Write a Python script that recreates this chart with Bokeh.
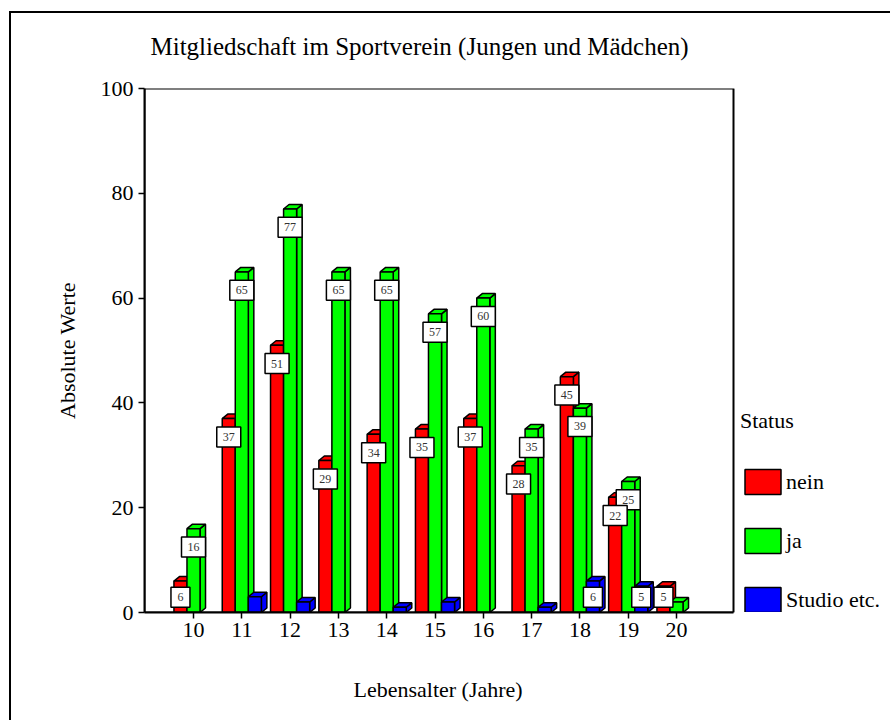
from bokeh.plotting import figure
from bokeh.models import (Range1d, FixedTicker, Legend, LegendItem, ColumnDataSource,
                          BoxAnnotation, Title, LinearAxis)
from bokeh.core.properties import value
from bokeh.embed import file_html
from bokeh.resources import INLINE

# ---- data ----
ages = [10, 11, 12, 13, 14, 15, 16, 17, 18, 19, 20]
nein = [6, 37, 51, 29, 34, 35, 37, 28, 45, 22, 5]
ja = [16, 65, 77, 65, 65, 57, 60, 35, 39, 25, 2]
studio = [0, 3, 2, 0, 1, 2, 0, 1, 6, 5, 0]
series_names = ["nein", "ja", "Studio etc."]
series_colors = ["#FF0000", "#00FF00", "#0000FF"]
y_ticks = [0, 20, 40, 60, 80, 100]

title_text = "Mitgliedschaft im Sportverein (Jungen und Mädchen)"
x_label = "Lebensalter (Jahre)"
y_label = "Absolute Werte"
legend_title = "Status"

FONT = "Liberation Serif"

PX_PER_UNIT = 48.3
X0 = 10 - 49 / PX_PER_UNIT           # left edge of the axis box
X1 = X0 + 589 / PX_PER_UNIT          # right edge of the axis box
X_END = X0 + 748 / PX_PER_UNIT       # extra room on the right for the legend

p = figure(width=881, height=709,
           x_range=Range1d(X0, X_END), y_range=Range1d(0, 100),
           output_backend="svg", toolbar_location=None,
           min_border_left=133, min_border_top=75,
           min_border_right=0, min_border_bottom=110)
p.styles = {"border-left": "2px solid black", "border-top": "2px solid black",
            "margin-left": "9px", "margin-top": "11px"}

xa = p.below[0]
ya = p.left[0]

p.title.text = title_text
p.title.text_font = FONT
p.title.text_font_size = "25px"
p.title.text_font_style = "normal"
p.title.text_color = "black"
p.title.align = "left"
p.title.offset = 6
p.title.standoff = 10

p.xgrid.visible = False
p.ygrid.visible = False
p.outline_line_color = None

p.add_layout(BoxAnnotation(left=X0, right=X1, bottom=0, top=100,
                           fill_color=None, line_color="black", line_width=2,
                           line_alpha=1))

for ax in (xa, ya):
    ax.major_label_text_font = FONT
    ax.major_label_text_font_size = "22px"
    ax.major_label_text_color = "black"
    ax.axis_label_text_font = FONT
    ax.axis_label_text_font_size = "22px"
    ax.axis_label_text_font_style = "normal"
    ax.axis_label_text_color = "black"
    ax.axis_line_width = 2
    ax.major_tick_line_width = 1.5
    ax.major_tick_out = 6
    ax.major_tick_in = 0
    ax.minor_tick_line_color = None

xa.ticker = FixedTicker(ticks=ages)
xa.bounds = (X0, X1)
ya.ticker = FixedTicker(ticks=y_ticks)
ya.axis_label = y_label
xa.major_label_standoff = 4
ya.major_label_standoff = 5
ya.axis_label_standoff = 18

SPACER_TICK = X_END - 0.3   # an invisible (white) tick in the empty right margin


def spacer_axis(size):
    return LinearAxis(ticker=FixedTicker(ticks=[SPACER_TICK]), axis_line_color=None,
                      major_tick_line_color="white", minor_tick_line_color=None,
                      major_label_overrides={SPACER_TICK: ""},
                      major_label_text_font_size="0px",
                      major_tick_out=size, major_tick_in=0, major_label_standoff=0)


# spacer between frame and title (title sits outermost in the top panel)
p.add_layout(spacer_axis(24), "above")

# spacer then x-axis title below
p.add_layout(spacer_axis(30), "below")
p.add_layout(Title(text=x_label, text_font=FONT, text_font_size="22px",
                   text_font_style="normal", text_color="black",
                   align="left", offset=209, standoff=10), "below")

# ---- 3D bars ----
W = 0.27       # bar width (data units)
DX = 0.114     # depth offset x
DY = 0.86      # depth offset y
offsets = [-W, 0.0, W]
all_series = [nein, ja, studio]

front_renderers = []
label_sets = []
for si, (vals, col) in enumerate(zip(all_series, series_colors)):
    x0s, x1s, tops = [], [], []
    side_xs, side_ys, top_xs, top_ys = [], [], [], []
    lab_x, lab_y, lab_t, lab_w = [], [], [], []
    for a, v in zip(ages, vals):
        if v <= 0:
            continue
        xc = a + offsets[si]
        x0, x1 = xc - W / 2, xc + W / 2
        x0s.append(x0); x1s.append(x1); tops.append(v)
        side_xs.append([x1, x1 + DX, x1 + DX, x1])
        side_ys.append([0, DY, v + DY, v])
        top_xs.append([x0, x0 + DX, x1 + DX, x1])
        top_ys.append([v, v + DY, v + DY, v])
        if v >= 5:
            lab_x.append(xc)
            lab_y.append(max(v - 3.5, 2.9))
            lab_t.append(str(v))
            lab_w.append(14 + 5 * len(str(v)))
    p.patches(side_xs, side_ys, fill_color=col, line_color="black", line_width=1.5)
    p.patches(top_xs, top_ys, fill_color=col, line_color="black", line_width=1.5)
    r = p.quad(left=x0s, right=x1s, bottom=0, top=tops, fill_color=col,
               line_color="black", line_width=1.5)
    front_renderers.append(r)
    label_sets.append((lab_x, lab_y, lab_t, lab_w))

# labels: green, blue, red (red on top)
for si in (1, 2, 0):
    lx, ly, lt, lw = label_sets[si]
    src = ColumnDataSource(dict(x=lx, y=ly, t=lt, w=lw))
    p.rect(x="x", y="y", width="w", height=20, width_units="screen",
           height_units="screen", fill_color="white", line_color="black",
           line_width=1.5, source=src)
    p.text(x="x", y="y", text="t", text_align="center", text_baseline="middle",
           text_font=value(FONT), text_font_size="12px", text_color="#333333",
           source=src)

legend = Legend(items=[LegendItem(label=n, renderers=[r])
                       for n, r in zip(series_names, front_renderers)],
                location=(596, -3), glyph_width=45, glyph_height=31,
                label_standoff=1, spacing=28, padding=0, margin=0,
                label_height=31,
                border_line_color=None, background_fill_alpha=0,
                title=legend_title, title_text_font=FONT,
                title_text_font_size="22px", title_text_font_style="normal",
                title_text_color="black", title_standoff=32,
                label_text_font=FONT, label_text_font_size="22px",
                label_text_color="black")
p.add_layout(legend, "center")

open("out.html", "w").write(file_html(p, INLINE))
